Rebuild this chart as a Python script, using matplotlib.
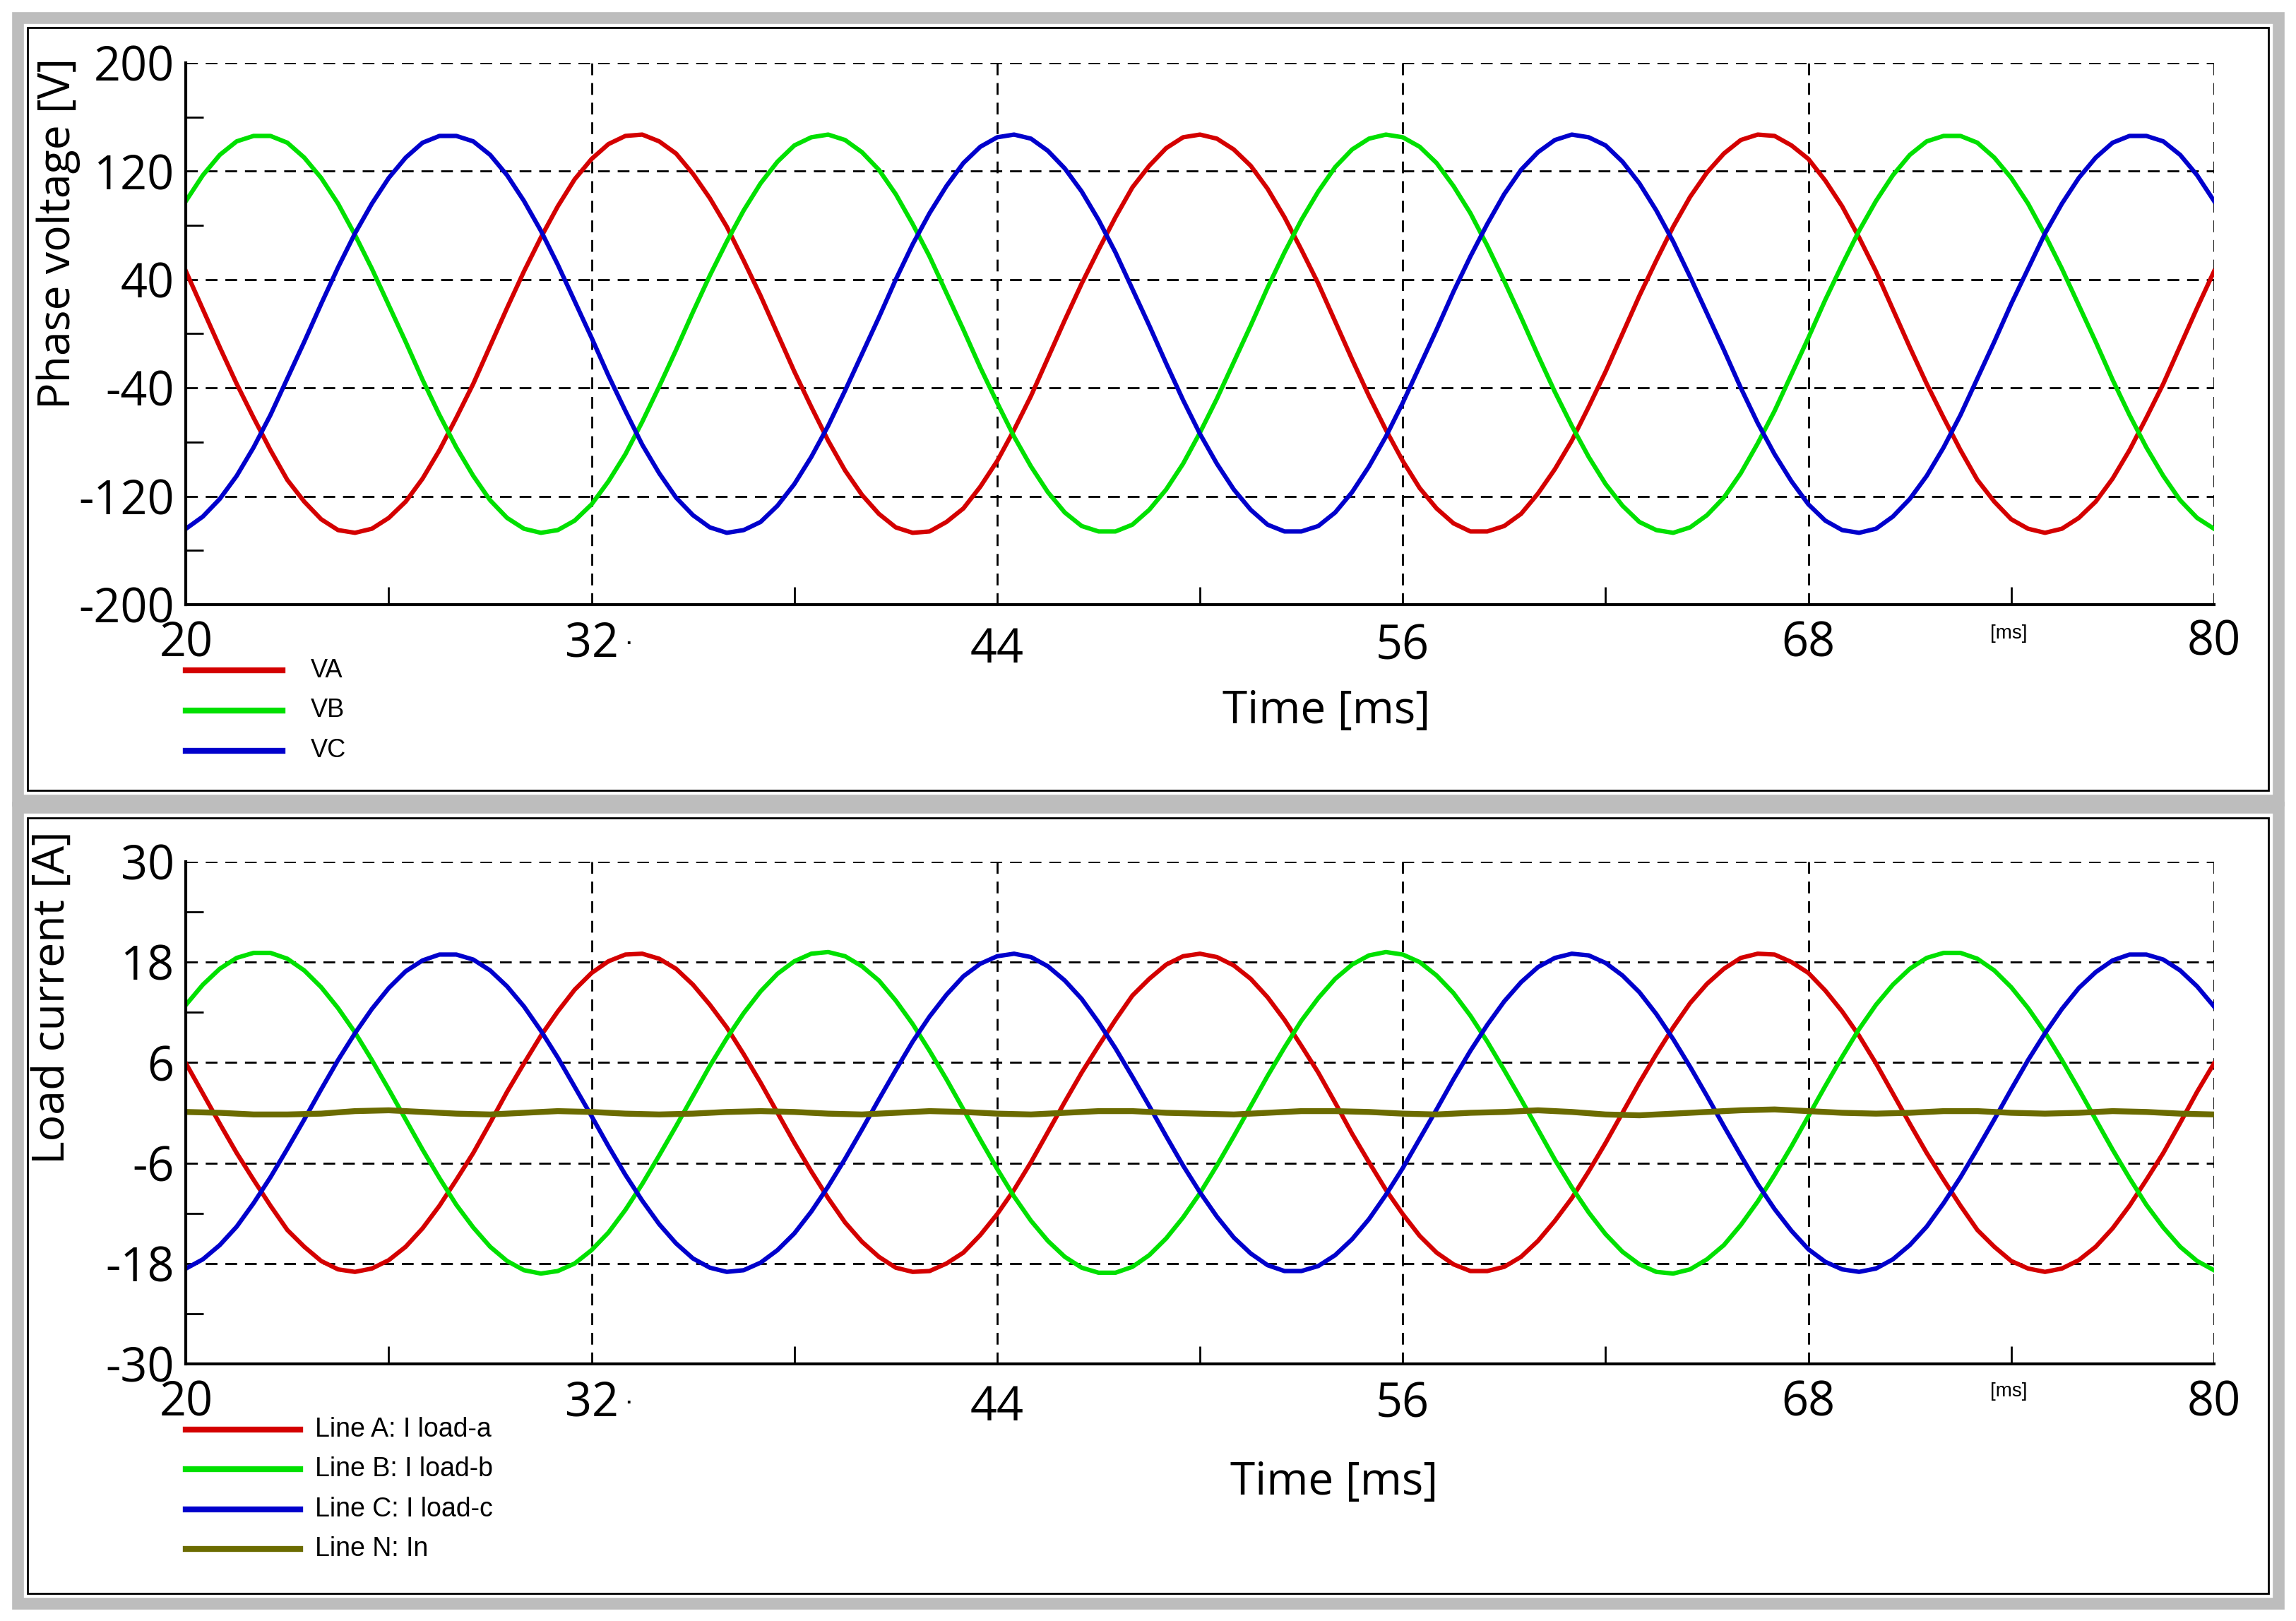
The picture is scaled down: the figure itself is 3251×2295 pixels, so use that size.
import numpy as np
import matplotlib
matplotlib.use("Agg")
import matplotlib.pyplot as plt
from matplotlib.lines import Line2D
from matplotlib.patches import Rectangle

# time base: 20..80 ms in 0.5 ms steps
t_start, t_step, n_pts = 20.0, 0.5, 121

va = [46,18,-10,-37,-62,-86,-108,-124,-137,-145,-147,-144,-136,-124,-107,-86,-62,-37,-9,19,46,71,94,114,129,140,146,147,142,133,118,100,79,54,28,0,-28,-54,-79,-101,-119,-133,-143,-147,-146,-139,-129,-113,-94,-71,-46,-18,10,37,62,86,108,124,137,145,147,144,136,124,107,86,62,37,9,-19,-46,-71,-94,-114,-129,-140,-146,-146,-142,-133,-118,-100,-79,-54,-28,0,28,54,79,101,119,133,143,147,146,139,129,113,94,71,46,18,-10,-37,-62,-86,-108,-124,-137,-144,-147,-144,-136,-124,-107,-86,-62,-37,-9,19,46]
vb = [98,117,132,142,146,146,141,130,115,96,73,48,21,-6,-34,-60,-84,-105,-123,-136,-144,-147,-145,-138,-126,-109,-89,-65,-39,-12,16,43,68,91,111,127,139,145,147,143,134,121,103,81,57,30,3,-25,-51,-76,-98,-117,-132,-142,-146,-146,-141,-130,-115,-96,-73,-48,-21,6,34,60,84,105,123,136,144,147,145,138,126,109,89,65,39,12,-16,-43,-68,-91,-111,-127,-139,-145,-147,-143,-134,-121,-103,-81,-57,-30,-3,25,51,76,98,117,132,142,146,146,141,130,115,96,73,48,21,-6,-34,-60,-84,-105,-123,-136,-144]
vc = [-144,-135,-122,-105,-84,-60,-33,-6,22,49,74,96,115,130,141,146,146,142,132,117,98,76,51,24,-3,-31,-57,-82,-103,-121,-134,-143,-147,-145,-139,-127,-111,-91,-68,-42,-15,12,40,66,89,109,126,138,145,147,144,135,122,105,84,60,33,6,-22,-49,-74,-96,-115,-130,-141,-146,-146,-142,-132,-117,-98,-76,-51,-24,3,31,57,81,103,121,134,143,147,145,139,127,111,91,68,42,15,-12,-40,-66,-89,-109,-126,-138,-145,-147,-144,-135,-122,-105,-84,-60,-33,-6,22,48,74,96,115,130,141,146,146,142,132,117,98]

ia = [5.9,2.3,-1.3,-4.8,-8.0,-11.1,-14.0,-16.0,-17.7,-18.7,-19.0,-18.6,-17.6,-16.0,-13.8,-11.1,-8.0,-4.8,-1.2,2.5,5.9,9.2,12.1,14.7,16.7,18.1,18.9,19.0,18.4,17.2,15.3,12.9,10.2,7.0,3.6,0.0,-3.6,-7.0,-10.2,-13.1,-15.4,-17.2,-18.5,-19.0,-18.9,-18.0,-16.7,-14.6,-12.1,-9.2,-5.9,-2.3,1.3,4.8,8.0,11.1,14.0,16.0,17.7,18.7,19.0,18.6,17.6,16.0,13.8,11.1,8.0,4.8,1.2,-2.5,-5.9,-9.2,-12.1,-14.7,-16.7,-18.1,-18.9,-18.9,-18.4,-17.2,-15.3,-12.9,-10.2,-7.0,-3.6,0.0,3.6,7.0,10.2,13.1,15.4,17.2,18.5,19.0,18.9,18.0,16.7,14.6,12.1,9.2,5.9,2.3,-1.3,-4.8,-8.0,-11.1,-14.0,-16.0,-17.7,-18.6,-19.0,-18.6,-17.6,-16.0,-13.8,-11.1,-8.0,-4.8,-1.2,2.5,5.9]
ib = [12.9,15.3,17.2,18.5,19.1,19.1,18.4,17,15,12.5,9.6,6.3,2.8,-0.8,-4.4,-7.8,-11,-13.7,-16,-17.7,-18.8,-19.2,-18.9,-18,-16.4,-14.3,-11.6,-8.5,-5.1,-1.6,2,5.6,8.9,11.9,14.5,16.6,18.1,19,19.2,18.7,17.5,15.8,13.4,10.6,7.4,4,0.4,-3.2,-6.7,-10,-12.9,-15.3,-17.2,-18.5,-19.1,-19.1,-18.4,-17,-15,-12.5,-9.6,-6.3,-2.8,0.8,4.4,7.8,11,13.7,16,17.7,18.8,19.2,18.9,18,16.4,14.3,11.6,8.5,5.1,1.6,-2,-5.6,-8.9,-11.9,-14.5,-16.6,-18.1,-19,-19.2,-18.7,-17.5,-15.8,-13.4,-10.6,-7.4,-4,-0.4,3.2,6.7,10,12.9,15.3,17.2,18.5,19.1,19.1,18.4,17,15,12.5,9.6,6.3,2.8,-0.8,-4.4,-7.8,-11,-13.7,-16,-17.7,-18.8]
ic = [-18.6,-17.5,-15.8,-13.6,-10.8,-7.7,-4.3,-0.8,2.8,6.3,9.5,12.4,14.9,16.9,18.2,18.9,18.9,18.3,17.0,15.1,12.7,9.8,6.6,3.1,-0.4,-4.0,-7.4,-10.5,-13.3,-15.6,-17.4,-18.5,-19.0,-18.8,-17.9,-16.4,-14.4,-11.8,-8.8,-5.5,-2.0,1.6,5.1,8.5,11.5,14.1,16.3,17.8,18.7,19.0,18.6,17.5,15.8,13.6,10.8,7.7,4.3,0.8,-2.8,-6.3,-9.5,-12.4,-14.9,-16.8,-18.2,-18.9,-18.9,-18.3,-17.0,-15.1,-12.7,-9.8,-6.6,-3.1,0.4,4.0,7.4,10.5,13.3,15.6,17.4,18.5,19.0,18.8,17.9,16.4,14.4,11.8,8.8,5.5,2.0,-1.6,-5.1,-8.5,-11.5,-14.1,-16.3,-17.8,-18.7,-19.0,-18.6,-17.5,-15.8,-13.6,-10.8,-7.7,-4.3,-0.8,2.8,6.3,9.5,12.4,14.9,16.8,18.2,18.9,18.9,18.3,17.0,15.1,12.7]
# neutral current, 1 ms steps
t_n = list(range(20, 81))
i_n = [0.1,0.0,-0.2,-0.2,-0.1,0.2,0.3,0.1,-0.1,-0.2,0.0,0.2,0.1,-0.1,-0.2,-0.1,0.1,0.2,0.1,-0.1,-0.2,0.0,0.2,0.1,-0.1,-0.2,0.0,0.2,0.2,0.0,-0.1,-0.2,0.0,0.2,0.2,0.1,-0.1,-0.2,0.0,0.1,0.3,0.1,-0.2,-0.3,-0.1,0.1,0.3,0.4,0.2,0.0,-0.1,0.0,0.2,0.2,0.0,-0.1,0.0,0.2,0.1,-0.1,-0.2]

xticks = [20, 32, 44, 56, 68, 80]
v_ticks = [-200, -120, -40, 40, 120, 200]
i_ticks = [-30, -18, -6, 6, 18, 30]
v_names = ["VA", "VB", "VC"]
i_names = ["Line A: I load-a", "Line B: I load-b", "Line C: I load-c", "Line N: In"]

RED, GREEN, BLUE, OLIVE = "#d40000", "#00e000", "#0000cc", "#6b6b00"
t = t_start + t_step * np.arange(n_pts)

W, H = 1568, 1110
fig = plt.figure(figsize=(32.51, 22.95), dpi=100)
fig.patch.set_facecolor("white")

def fx(x): return x / W
def fy(y): return 1 - y / H

# panel frames
for (y0, y1) in [(12, 548), (553, 1098)]:
    fig.add_artist(Rectangle((fx(12), fy(y1)), fx(1544), (y1 - y0) / H, transform=fig.transFigure,
                             fill=False, edgecolor="#bdbdbd", lw=12))
    fig.add_artist(Rectangle((fx(19), fy(y1 - 7)), fx(1530), (y1 - y0 - 14) / H, transform=fig.transFigure,
                             fill=False, edgecolor="black", lw=2))

def setup(ax, yt, ylim):
    ax.set_xlim(20, 80)
    ax.set_ylim(*ylim)
    ax.set_yticks(yt)
    ax.set_xticks(xticks)
    ax.set_xticklabels([])
    ax.set_yticklabels([str(v) for v in yt], fontsize=48, family="Open Sans")
    ax.set_xticks([26, 38, 50, 62, 74], minor=True)
    step = (yt[1] - yt[0]) / 2
    ax.set_yticks([yt[0] + step + i * 2 * step for i in range(5)], minor=True)
    ax.tick_params(axis="both", which="major", length=0, pad=12)
    ax.tick_params(axis="both", which="minor", length=18, width=2, direction="in")
    ax.grid(True, which="major", color="black", linestyle=(0, (6, 4)), lw=2)
    for s in ["top", "right"]:
        ax.spines[s].set_visible(False)
    for s in ["left", "bottom"]:
        ax.spines[s].set_linewidth(3)

def xlabels(ax, ybase, offs):
    for x, o in zip(xticks, offs):
        fig.text(ax.transData.transform((x, 0))[0] / fig.bbox.width, fy(ybase + o), str(x),
                 fontsize=48, family="Open Sans", ha="center", va="center")

# top panel
ax1 = fig.add_axes([fx(127), fy(414), fx(1512 - 127), (414 - 43) / H])
setup(ax1, v_ticks, (-200, 200))
for y, c in zip([va, vb, vc], [RED, GREEN, BLUE]):
    ax1.plot(t, y, color=c, lw=4.5)
# bottom panel
ax2 = fig.add_axes([fx(127), fy(934), fx(1512 - 127), (934 - 590) / H])
setup(ax2, i_ticks, (-30, 30))
for y, c in zip([ia, ib, ic], [RED, GREEN, BLUE]):
    ax2.plot(t, y, color=c, lw=4.5)
ax2.plot(t_n, i_n, color=OLIVE, lw=6)

xlabels(ax1, 441, [0, 0, 4, 2, 0, -1])
xlabels(ax2, 961, [0, 0, 3, 1, 0, 0])
for yb in [434, 953]:
    fig.text(fx(1372), fy(yb), "[ms]", fontsize=20, family="Liberation Sans", ha="center", va="center")
for yb in [441, 961]:
    fig.text(fx(429), fy(yb), "·", fontsize=26, ha="center", va="center")

fig.text(fx(40), fy(160), "Phase voltage [V]", rotation=90, fontsize=45, family="Open Sans",
         ha="center", va="center")
fig.text(fx(36), fy(683), "Load current [A]", rotation=90, fontsize=45, family="Open Sans",
         ha="center", va="center")
fig.text(fx(906), fy(487), "Time [ms]", fontsize=46, family="Open Sans", ha="center", va="center")
fig.text(fx(911), fy(1015), "Time [ms]", fontsize=46, family="Open Sans", ha="center", va="center")

for i, (n, c) in enumerate(zip(v_names, [RED, GREEN, BLUE])):
    y = fy(459 + 27.5 * i)
    fig.add_artist(Line2D([fx(127), fx(193)], [y, y], color=c, lw=6, transform=fig.transFigure))
    fig.text(fx(212), y, n, fontsize=26, family="Liberation Sans", va="center")
for i, (n, c) in enumerate(zip(i_names, [RED, GREEN, BLUE, OLIVE])):
    y = fy(979 + 27.2 * i)
    fig.add_artist(Line2D([fx(127), fx(205)], [y, y], color=c, lw=6, transform=fig.transFigure))
    fig.text(fx(215), y, n, fontsize=27, family="Liberation Sans", va="center")

fig.savefig("out.png", dpi=100, facecolor="white")
